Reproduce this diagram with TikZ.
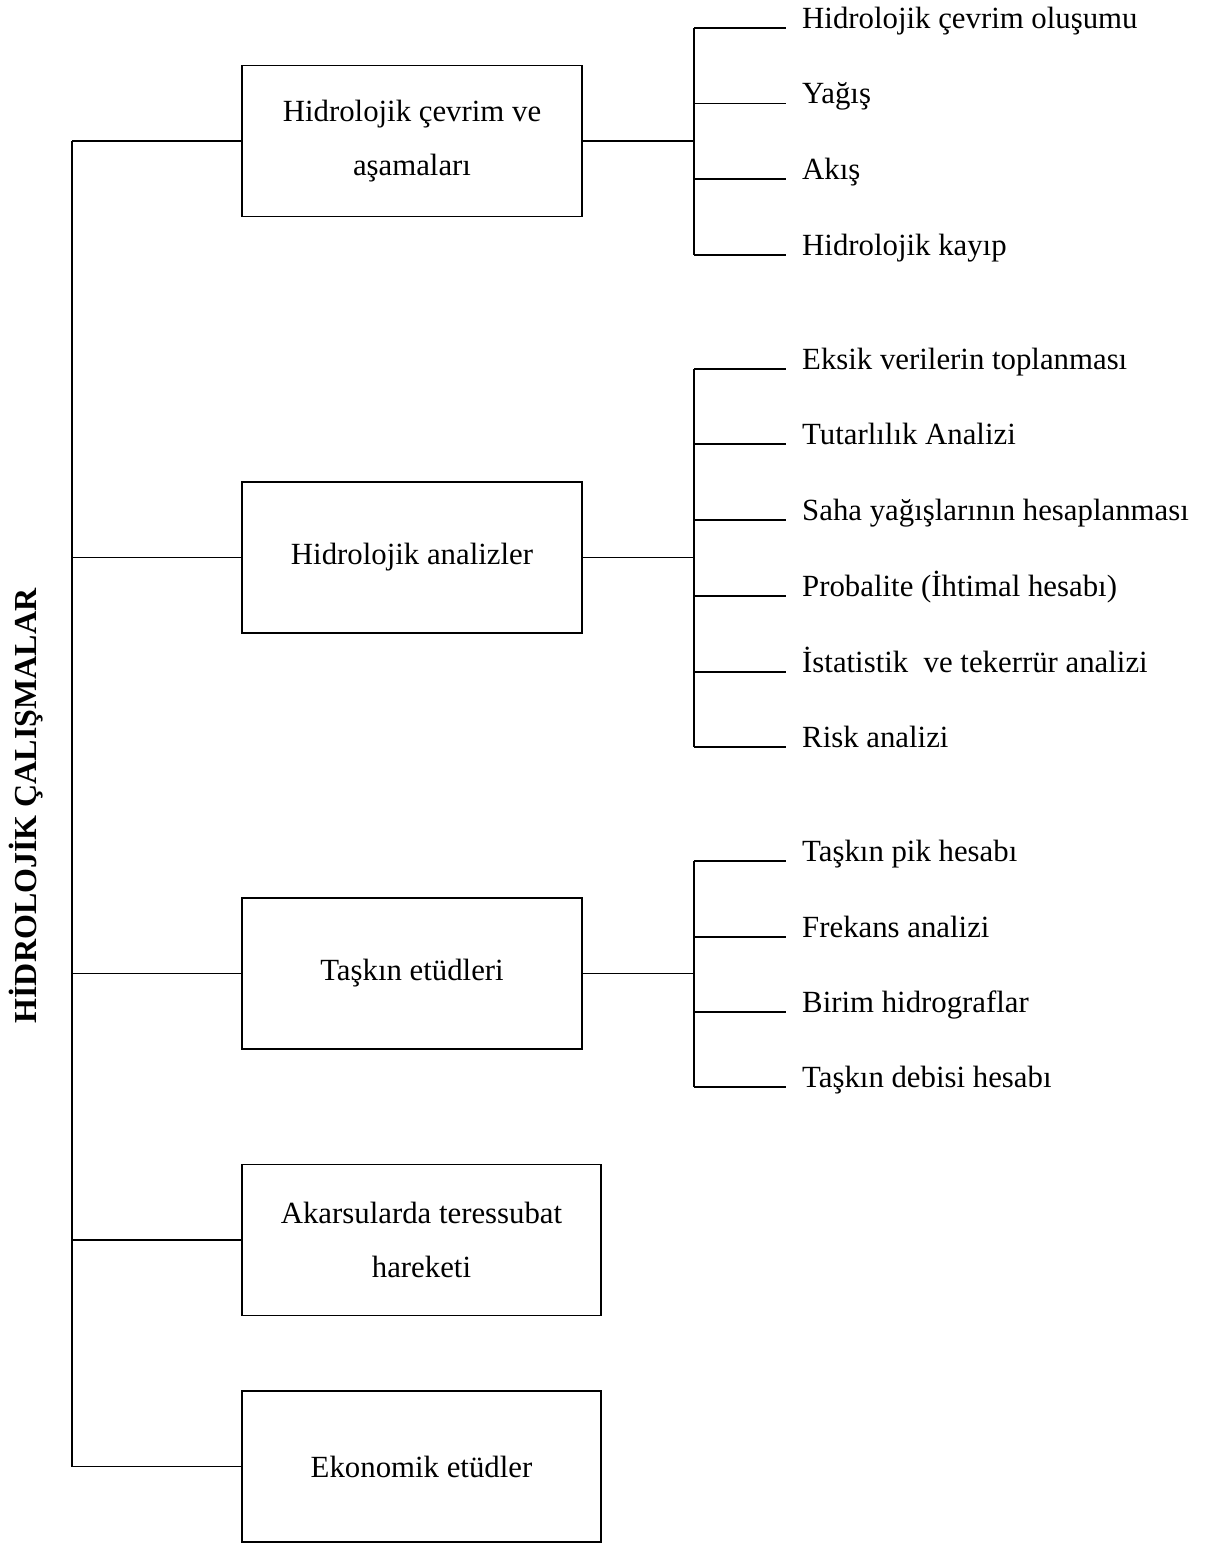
\documentclass[tikz,border=0pt]{standalone}
\usepackage{fontspec}
\setmainfont{Liberation Serif}
\begin{document}
\begin{tikzpicture}[x=1pt,y=-1pt,
  line/.style={line width=1.3pt,black},
  mainbox/.style={draw,line width=1.3pt,minimum height=151pt,inner sep=0pt,align=center,
    font=\fontsize{30.8}{54}\selectfont},
  leaf/.style={anchor=base west,inner sep=0pt,font=\fontsize{30.8}{37}\selectfont},
  title/.style={rotate=90,anchor=base,inner sep=0pt,font=\fontsize{32}{38}\selectfont\bfseries}]
\useasboundingbox (0,0) rectangle (1220,1545);

% title
\node[title] (t) at (36,806) {HİDROLOJİK ÇALIŞMALAR};

% main boxes
\node[mainbox,minimum width=340pt] (b1) at (412,141) {Hidrolojik çevrim ve\\aşamaları};
\node[mainbox,minimum width=340pt] (b2) at (412,557.5) {Hidrolojik analizler};
\node[mainbox,minimum width=340pt] (b3) at (412,973.5) {Taşkın etüdleri};
\node[mainbox,minimum width=359pt] (b4) at (421.5,1240) {Akarsularda teressubat\\hareketi};
\node[mainbox,minimum width=359pt] (b5) at (421.5,1466.5) {Ekonomik etüdler};

% trunk
\coordinate (tk1) at (72,141);
\coordinate (tk5) at (72,1466.5);
\draw[line] (tk1) -- (tk5);
\foreach \b in {b1,b2,b3,b4,b5}{
  \draw[line] (\b.west) -- (\b.west -| tk1);
}

% leaves group 1
\node[leaf] (l11) at (802,28) {Hidrolojik çevrim oluşumu};
\node[leaf] (l12) at (802,103.5) {Yağış};
\node[leaf] (l13) at (802,179) {Akış};
\node[leaf] (l14) at (802,255) {Hidrolojik kayıp};
% leaves group 2
\node[leaf] (l21) at (802,369) {Eksik verilerin toplanması};
\node[leaf] (l22) at (802,444) {Tutarlılık Analizi};
\node[leaf] (l23) at (802,520) {Saha yağışlarının hesaplanması};
\node[leaf] (l24) at (802,596) {Probalite (İhtimal hesabı)};
\node[leaf] (l25) at (802,672) {İstatistik\ \ ve tekerrür analizi};
\node[leaf] (l26) at (802,747) {Risk analizi};
% leaves group 3
\node[leaf] (l31) at (802,861) {Taşkın pik hesabı};
\node[leaf] (l32) at (802,937) {Frekans analizi};
\node[leaf] (l33) at (802,1012) {Birim hidrograflar};
\node[leaf] (l34) at (802,1087) {Taşkın debisi hesabı};

% buses
\coordinate (bus1) at (694,141);
\coordinate (bus2) at (694,557.5);
\coordinate (bus3) at (694,973.5);

\draw[line] (b1.east) -- (bus1);
\draw[line] (b2.east) -- (bus2);
\draw[line] (b3.east) -- (bus3);

\draw[line] (l11.base west -| bus1) -- (l14.base west -| bus1);
\draw[line] (l21.base west -| bus2) -- (l26.base west -| bus2);
\draw[line] (l31.base west -| bus3) -- (l34.base west -| bus3);

\foreach \l in {l11,l12,l13,l14}{
  \draw[line] (\l.base west -| bus1) -- ([xshift=-16pt]\l.base west);
}
\foreach \l in {l21,l22,l23,l24,l25,l26}{
  \draw[line] (\l.base west -| bus2) -- ([xshift=-16pt]\l.base west);
}
\foreach \l in {l31,l32,l33,l34}{
  \draw[line] (\l.base west -| bus3) -- ([xshift=-16pt]\l.base west);
}
\end{tikzpicture}
\end{document}
